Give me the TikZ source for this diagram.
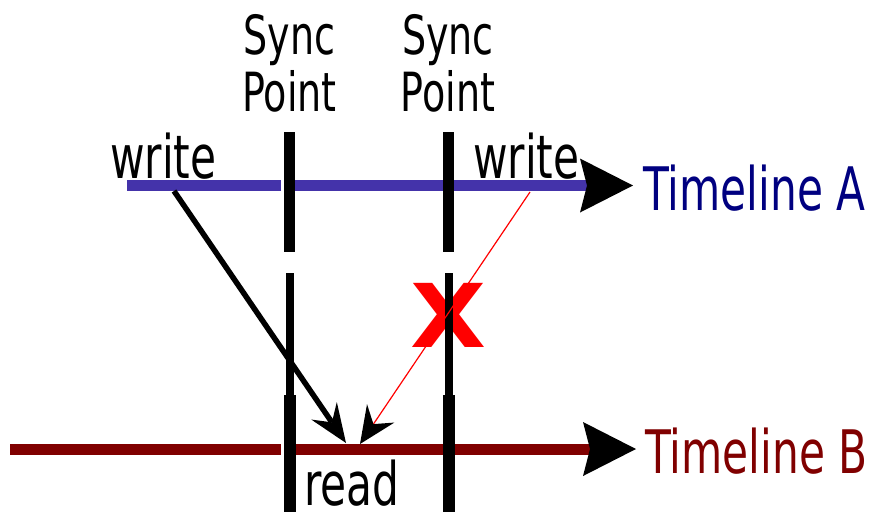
\documentclass[tikz,border=0pt]{standalone}
\usepackage{fontspec}
\setsansfont{DejaVu Sans}[FakeStretch=0.705]
\newfontfamily\crossfont{DejaVu Sans}[FakeStretch=1.12]
\usetikzlibrary{
  calc,
  arrows.meta}
\definecolor{timelineacolor}{RGB}{68,51,170}
\definecolor{labelacolor}{RGB}{0,0,128}
\definecolor{timelinebcolor}{RGB}{128,0,0}
\definecolor{crosscolor}{RGB}{255,0,0}
\tikzset{
  %% timeline : horizontal time axis of one thread
  timeline/.style={
    line width=11pt,
    -{Stealth[length=53pt, width=54pt, inset=7pt, line width=0pt, color=black]}
  },
  %% syncbar : one piece of a sync point marker
  syncbar/.style={
    black,
    line width=#1
  },
  %% cut : thin white gap left of the first sync point
  cut/.style={white, line width=3pt},
  %% message : a write that is seen by the read
  message/.style={
    black,
    line width=5.5pt,
    -{Stealth[length=39pt, width=31pt, inset=14pt, line width=0pt]}
  },
  %% lostmessage : a write that is not seen by the read
  lostmessage/.style={
    crosscolor,
    line width=1.2pt,
    -{Stealth[length=37pt, width=33pt, inset=13pt, line width=0pt, color=black]}
  },
  %% eventlabel : write / read
  eventlabel/.style={
    inner sep=0pt,
    anchor=base west,
    font=\fontsize{60}{60}\selectfont
  },
  %% synclabel : text above a sync point
  synclabel/.style={
    inner sep=0pt,
    anchor=north,
    align=center,
    font=\fontsize{54}{57}\selectfont
  },
  %% timelinelabel : name of a timeline
  timelinelabel/.style={
    inner sep=0pt,
    anchor=base west,
    font=\fontsize{60}{60}\selectfont
  },
  %% cross : marks the forbidden path
  cross/.style={
    inner sep=0pt,
    text=crosscolor,
    font=\crossfont\bfseries\fontsize{88}{88}\selectfont
  }
}

\begin{document}
\begin{tikzpicture}
  [x=1pt,
  y=-1pt]
  \sffamily
  \useasboundingbox (0, 0) rectangle (869, 512);

  %% Grid for orientation
  %\draw[help lines, green, step=50] (0, 0) grid (869, 512);

  %% Timelines
  \coordinate (astart) at (127, 185.5);
  \coordinate (aend) at (633, 185.5);
  \coordinate (bstart) at (10, 449);
  \coordinate (bend) at (636, 449);
  \draw [timeline, timelineacolor] (astart) -- (aend);
  \draw [timeline, timelinebcolor] (bstart) -- (bend);

  \node (tla) [timelinelabel, text=labelacolor] at (643, 210) {Timeline A};
  \node (tlb) [timelinelabel, text=timelinebcolor] at (645, 473) {Timeline B};

  %% Gaps left of first sync point
  \draw [cut] (282, 178) -- (282, 193);
  \draw [cut] (282, 441) -- (282, 457);

  %% Cross over the second sync point
  \node (cross) [cross] at (448, 315) {X};

  %% Sync points
  \draw [syncbar=11pt] (289.5, 132) -- (289.5, 252);
  \draw [syncbar=8pt] (289.5, 273) -- (289.5, 395);
  \draw [syncbar=12pt] (289.5, 395) -- (289.5, 512);

  \draw [syncbar=11pt] (448.5, 132) -- (448.5, 252);
  \draw [syncbar=8pt] (448.5, 273) -- (448.5, 395);
  \draw [syncbar=12pt] (448.5, 395) -- (448.5, 512);

  \node (sync1) [synclabel] at (289.5, 14) {Sync\\Point};
  \node (sync2) [synclabel] at (448, 14) {Sync\\Point};

  %% Events
  \node (write1) [eventlabel] at (110, 178) {write};
  \node (write2) [eventlabel] at (473, 178) {write};
  \node (read) [eventlabel] at (304, 505) {read};

  \coordinate (w1) at (174, 191);
  \coordinate (w2) at (530, 192);
  \coordinate (r1) at (346, 443);
  \coordinate (r2) at (360, 444);
  \draw [message] (w1) -- (r1);
  \draw [lostmessage] (w2) -- (r2);

\end{tikzpicture}
\end{document}
